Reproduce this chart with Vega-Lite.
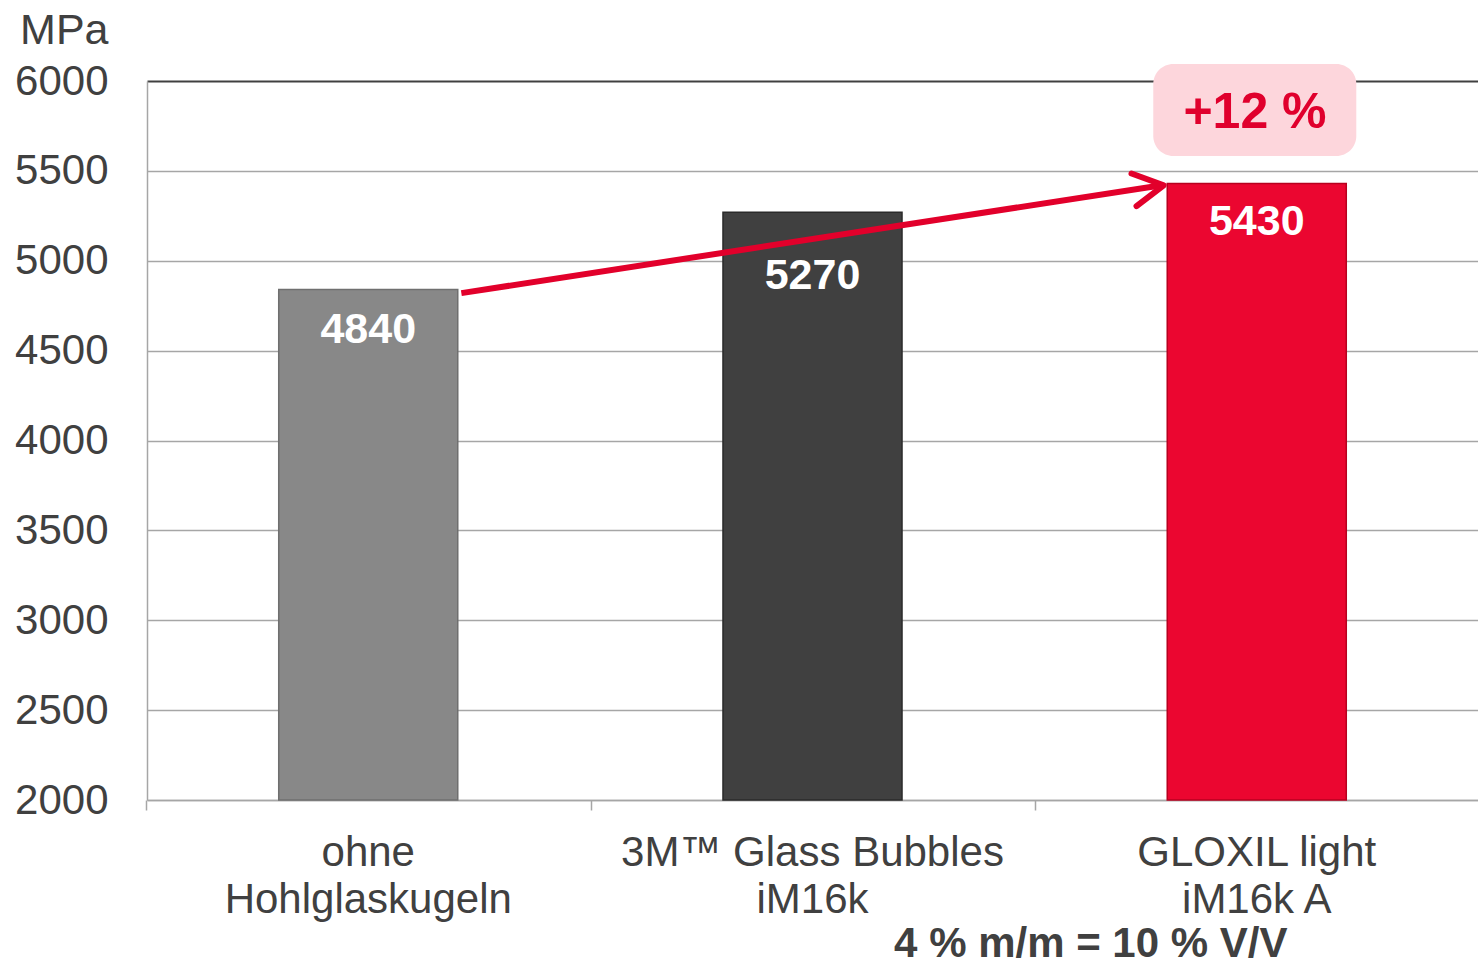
{
  "$schema": "https://vega.github.io/schema/vega-lite/v6.json",
  "width": 1331,
  "height": 719,
  "autosize": {"type": "none"},
  "padding": {"left": 147, "top": 81, "right": 0, "bottom": 166},
  "background": "white",
  "config": {
    "view": {"stroke": null},
    "font": "Liberation Sans"
  },
  "datasets": {
    "bars": [
      {"cat": "ohne|Hohlglaskugeln", "value": 4840, "labelAt": 4544},
      {"cat": "3M™ Glass Bubbles|iM16k", "value": 5270, "labelAt": 4843},
      {"cat": "GLOXIL light|iM16k A", "value": 5430, "labelAt": 5143}
    ],
    "arrow": [
      {"from": "ohne|Hohlglaskugeln", "to": "GLOXIL light|iM16k A", "y1": 4820, "y2": 5420}
    ],
    "box": [
      {"cat": "GLOXIL light|iM16k A", "top": 6095, "bottom": 5583, "labelY": 5737, "label": "+12 %"}
    ],
    "note": [
      {"cat": "GLOXIL light|iM16k A", "y": 1128, "label": "4 % m/m = 10 % V/V"}
    ]
  },
  "layer": [
    {
      "data": {"name": "bars"},
      "mark": {"type": "bar", "strokeWidth": 1.5},
      "encoding": {
        "x": {
          "field": "cat",
          "type": "nominal",
          "sort": null,
          "scale": {
            "domain": ["ohne|Hohlglaskugeln", "3M™ Glass Bubbles|iM16k", "GLOXIL light|iM16k A"],
            "paddingInner": 0.597,
            "paddingOuter": 0.2965
          },
          "axis": {
            "title": null,
            "labelExpr": "split(datum.value, '|')",
            "labelAngle": 0,
            "labelFontSize": 42,
            "labelColor": "#404040",
            "labelLineHeight": 47,
            "labelBaseline": "alphabetic",
            "labelPadding": 55,
            "labelLimit": 0,
            "labelOverlap": false,
            "bandPosition": -0.737,
            "ticks": true,
            "tickSize": 10,
            "tickColor": "#a6a6a6",
            "tickWidth": 1.5,
            "domainColor": "#a6a6a6",
            "domainWidth": 1.5,
            "grid": false
          }
        },
        "y": {
          "field": "value",
          "type": "quantitative",
          "scale": {"domain": [2000, 6000], "nice": false, "zero": false},
          "axis": {
            "title": "MPa",
            "titleAngle": 0,
            "titleAlign": "right",
            "titleBaseline": "alphabetic",
            "titleX": -39,
            "titleY": -38,
            "titleFontSize": 43,
            "titleFontWeight": "normal",
            "titleColor": "#404040",
            "values": [2000, 2500, 3000, 3500, 4000, 4500, 5000, 5500, 6000],
            "format": "d",
            "labelFontSize": 42,
            "labelColor": "#404040",
            "labelPadding": 39,
            "ticks": false,
            "domainColor": "#a6a6a6",
            "domainWidth": 1.5,
            "grid": true,
            "gridColor": {"condition": {"test": "datum.value === 6000", "value": "#404040"}, "value": "#a6a6a6"},
            "gridWidth": {"condition": {"test": "datum.value === 6000", "value": 2}, "value": 1.5}
          }
        },
        "y2": {"datum": 2000},
        "color": {
          "field": "cat",
          "type": "nominal",
          "scale": {
            "domain": ["ohne|Hohlglaskugeln", "3M™ Glass Bubbles|iM16k", "GLOXIL light|iM16k A"],
            "range": ["#888888", "#404040", "#eb0630"]
          },
          "legend": null
        },
        "stroke": {
          "field": "cat",
          "type": "nominal",
          "scale": {
            "domain": ["ohne|Hohlglaskugeln", "3M™ Glass Bubbles|iM16k", "GLOXIL light|iM16k A"],
            "range": ["#6f6f6f", "#2a2a2a", "#b8001f"]
          },
          "legend": null
        }
      }
    },
    {
      "data": {"name": "bars"},
      "mark": {"type": "text", "color": "white", "fontSize": 43, "fontWeight": "bold", "baseline": "alphabetic", "align": "center"},
      "encoding": {
        "x": {"field": "cat", "type": "nominal", "sort": null},
        "y": {"field": "labelAt", "type": "quantitative"},
        "text": {"field": "value", "type": "quantitative", "format": "d"}
      }
    },
    {
      "data": {"name": "arrow"},
      "mark": {"type": "rule", "color": "#e2002b", "strokeWidth": 6, "strokeCap": "butt"},
      "encoding": {
        "x": {"field": "from", "type": "nominal", "bandPosition": 1.02},
        "x2": {"field": "to", "bandPosition": -0.03},
        "y": {"field": "y1", "type": "quantitative"},
        "y2": {"field": "y2"}
      }
    },
    {
      "data": {"name": "arrow"},
      "mark": {"type": "point", "shape": "M-1,-0.55L0,0L-1,0.55", "filled": false, "size": 3600, "stroke": "#e2002b", "strokeWidth": 6, "strokeCap": "round", "strokeJoin": "round", "angle": -8.75, "opacity": 1},
      "encoding": {
        "x": {"field": "to", "type": "nominal", "bandPosition": -0.02},
        "y": {"field": "y2", "type": "quantitative"}
      }
    },
    {
      "data": {"name": "box"},
      "mark": {"type": "rect", "color": "#fdd6dc", "cornerRadius": 20},
      "encoding": {
        "x": {"field": "cat", "type": "nominal", "bandPosition": -0.078},
        "x2": {"field": "cat", "bandPosition": 1.056},
        "y": {"field": "top", "type": "quantitative"},
        "y2": {"field": "bottom"}
      }
    },
    {
      "data": {"name": "box"},
      "mark": {"type": "text", "color": "#e0002d", "fontSize": 50, "fontWeight": "bold", "baseline": "alphabetic", "align": "center"},
      "encoding": {
        "x": {"field": "cat", "type": "nominal", "bandPosition": 0.49},
        "y": {"field": "labelY", "type": "quantitative"},
        "text": {"field": "label", "type": "nominal"}
      }
    },
    {
      "data": {"name": "note"},
      "mark": {"type": "text", "color": "#404040", "fontSize": 42, "fontWeight": "bold", "baseline": "alphabetic", "align": "center"},
      "encoding": {
        "x": {"field": "cat", "type": "nominal", "bandPosition": -0.427},
        "y": {"field": "y", "type": "quantitative"},
        "text": {"field": "label", "type": "nominal"}
      }
    }
  ]
}
